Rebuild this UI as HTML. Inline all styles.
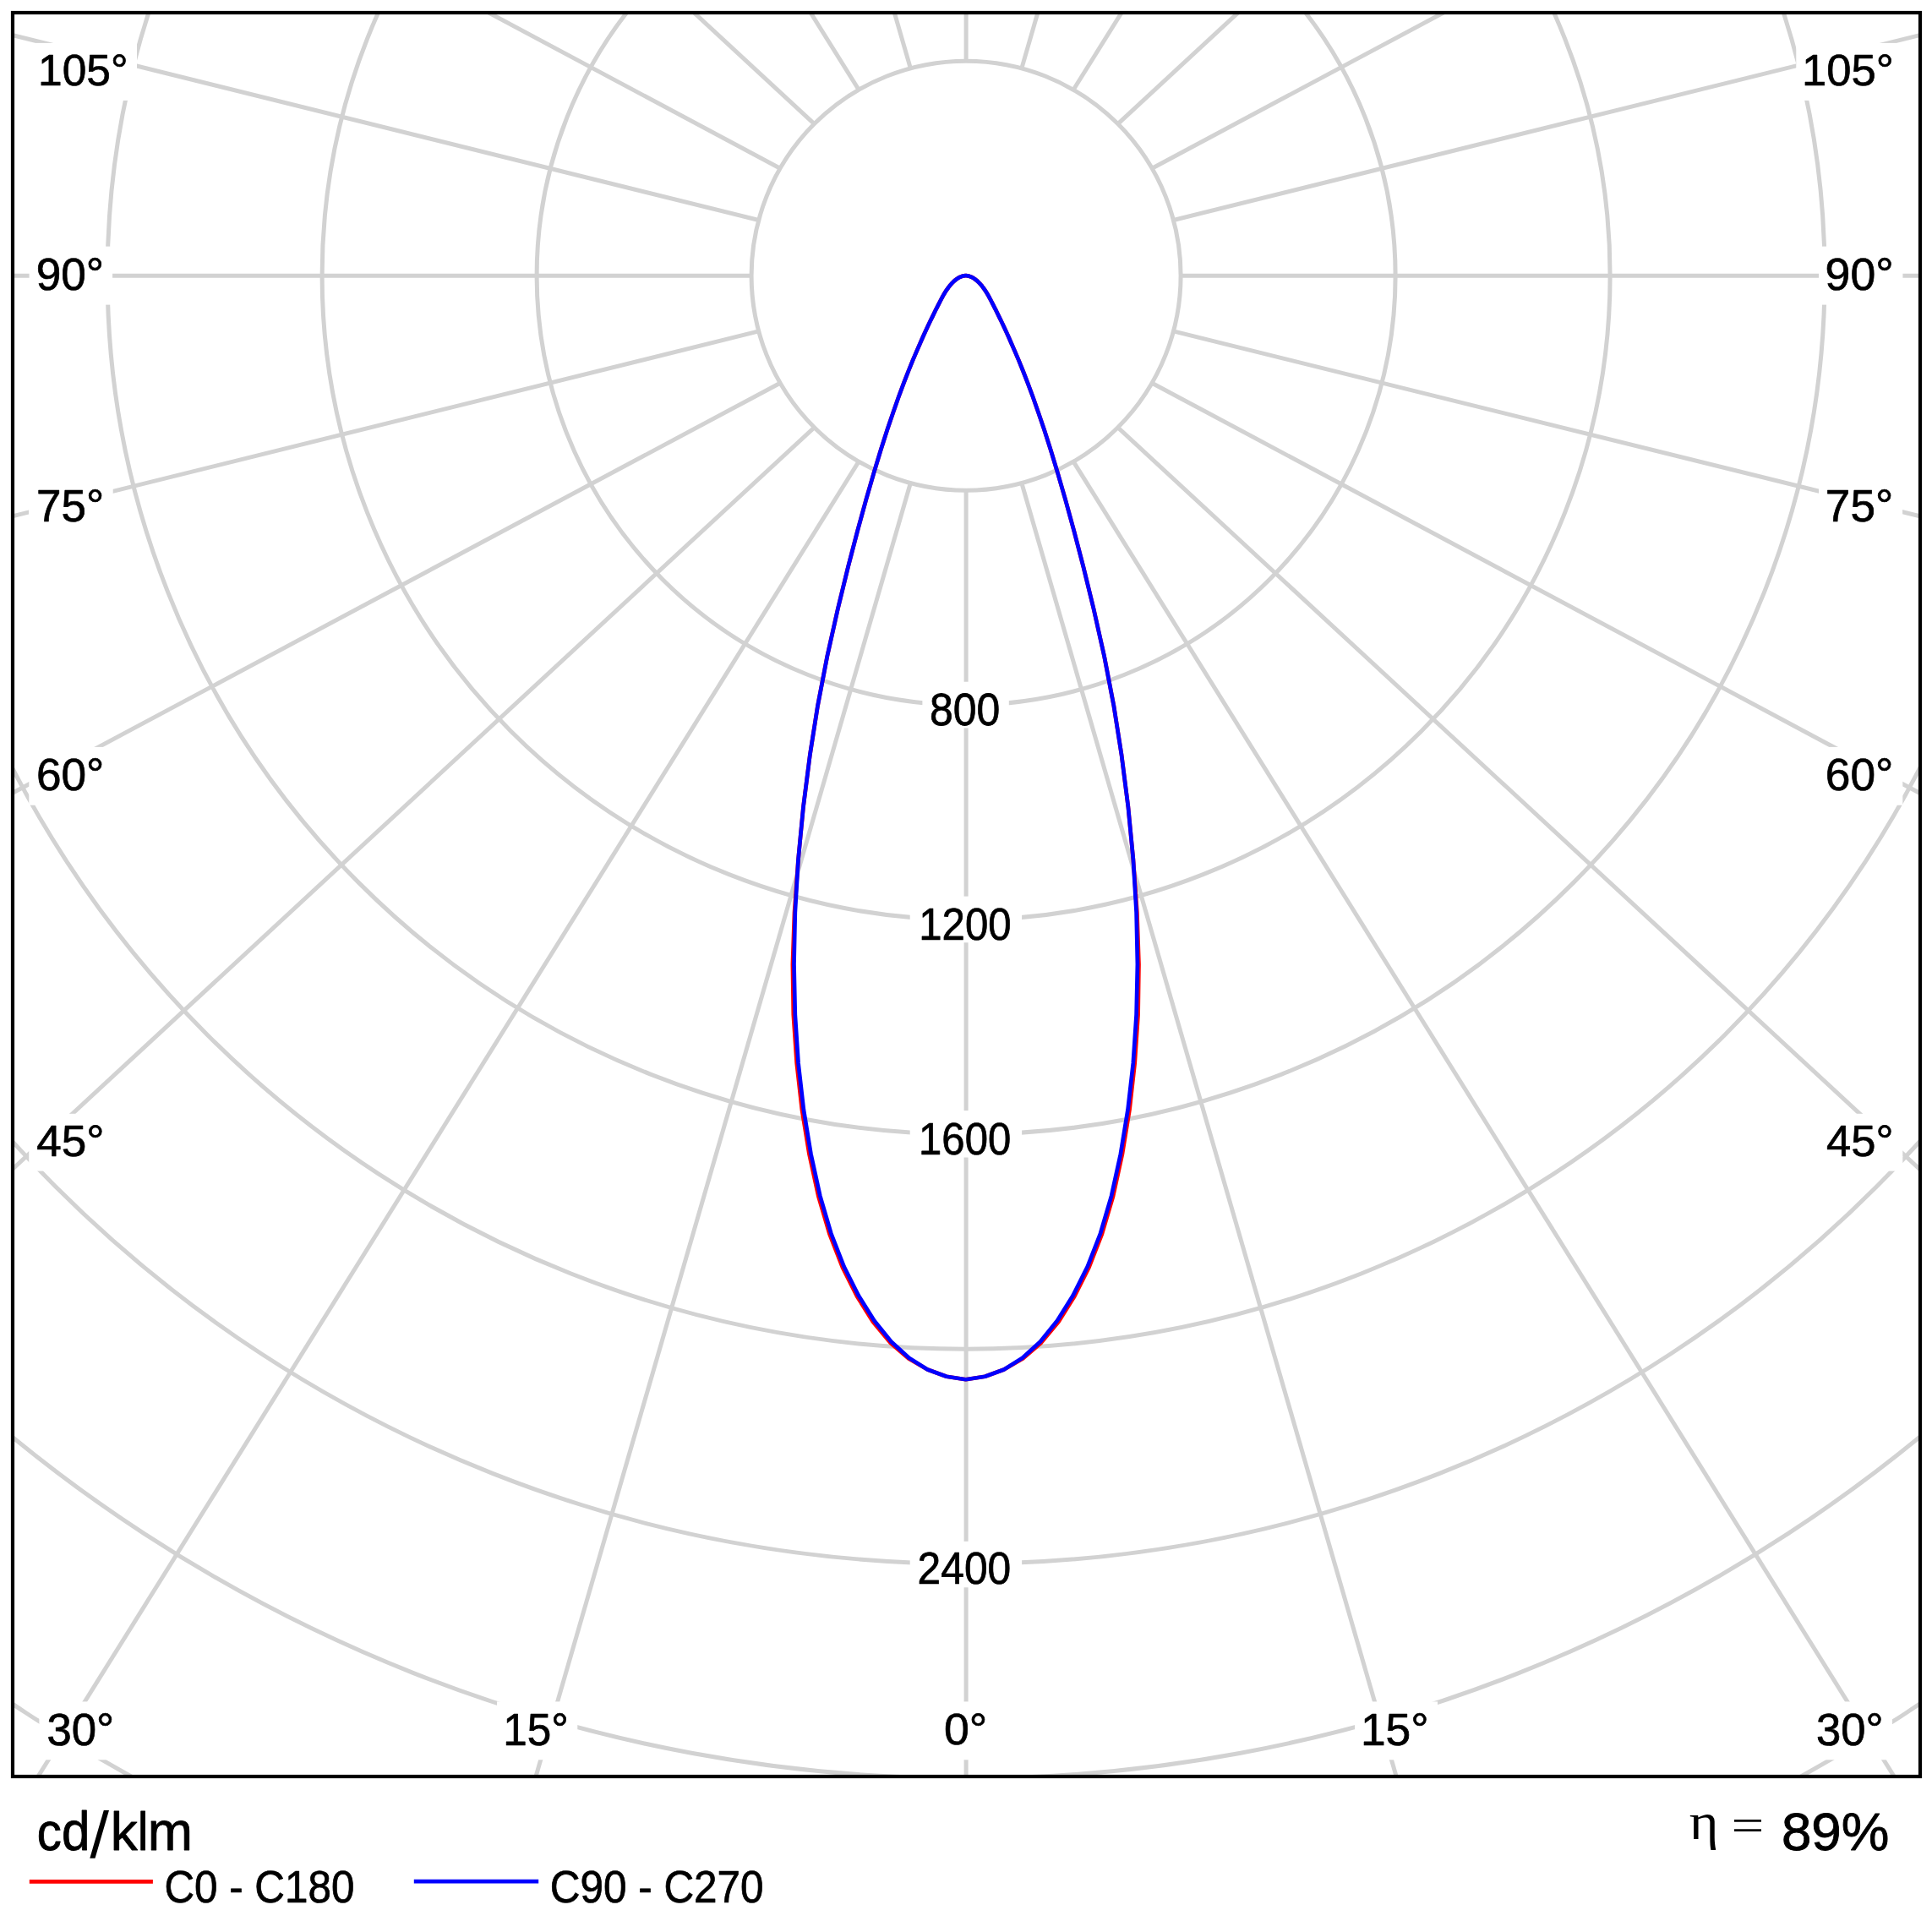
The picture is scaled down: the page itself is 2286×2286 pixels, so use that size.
<!DOCTYPE html><html><head><meta charset="utf-8"><style>html,body{margin:0;padding:0;background:#fff;overflow:hidden}svg{display:block}</style></head><body>
<svg width="2286" height="2286" viewBox="0 0 2286 2286">
<defs><clipPath id="fr"><rect x="17.0" y="17.0" width="2253.0" height="2083.0"/></clipPath></defs>
<rect width="2286" height="2286" fill="#fff"/>
<g clip-path="url(#fr)" fill="none" stroke="#d2d2d2" stroke-width="5.0">
<circle cx="1143.1" cy="326.2" r="254.0"/>
<circle cx="1143.1" cy="326.2" r="508.0"/>
<circle cx="1143.1" cy="326.2" r="762.0"/>
<circle cx="1143.1" cy="326.2" r="1016.0"/>
<circle cx="1143.1" cy="326.2" r="1270.0"/>
<circle cx="1143.1" cy="326.2" r="1524.0"/>
<circle cx="1143.1" cy="326.2" r="1778.0"/>
<circle cx="1143.1" cy="326.2" r="2032.0"/>
<line x1="1077.36" y1="571.55" x2="633.74" y2="2103.00"/>
<line x1="1016.10" y1="546.17" x2="44.39" y2="2103.00"/>
<line x1="963.49" y1="505.81" x2="14.00" y2="1384.09"/>
<line x1="923.13" y1="453.20" x2="14.00" y2="938.72"/>
<line x1="897.75" y1="391.94" x2="14.00" y2="610.98"/>
<line x1="889.10" y1="326.20" x2="14.00" y2="326.20"/>
<line x1="897.75" y1="260.46" x2="14.00" y2="41.42"/>
<line x1="923.13" y1="199.20" x2="576.34" y2="14.00"/>
<line x1="963.49" y1="146.59" x2="820.15" y2="14.00"/>
<line x1="1016.10" y1="106.23" x2="958.53" y2="14.00"/>
<line x1="1077.36" y1="80.85" x2="1057.99" y2="14.00"/>
<line x1="1143.10" y1="580.20" x2="1143.10" y2="2103.00"/>
<line x1="1208.84" y1="571.55" x2="1652.46" y2="2103.00"/>
<line x1="1270.10" y1="546.17" x2="2241.81" y2="2103.00"/>
<line x1="1322.71" y1="505.81" x2="2273.00" y2="1384.83"/>
<line x1="1363.07" y1="453.20" x2="2273.00" y2="939.15"/>
<line x1="1388.45" y1="391.94" x2="2273.00" y2="611.18"/>
<line x1="1397.10" y1="326.20" x2="2273.00" y2="326.20"/>
<line x1="1388.45" y1="260.46" x2="2273.00" y2="41.22"/>
<line x1="1363.07" y1="199.20" x2="1709.86" y2="14.00"/>
<line x1="1322.71" y1="146.59" x2="1466.05" y2="14.00"/>
<line x1="1270.10" y1="106.23" x2="1327.67" y2="14.00"/>
<line x1="1208.84" y1="80.85" x2="1228.21" y2="14.00"/>
<line x1="1143.10" y1="72.20" x2="1143.10" y2="14.00"/>
</g>
<g fill="#fff" stroke="none">
<rect x="34.4" y="50.9" width="127.6" height="68.0"/>
<rect x="34.6" y="291.6" width="98.5" height="69.0"/>
<rect x="34.0" y="566.4" width="99.7" height="68.5"/>
<rect x="34.3" y="883.9" width="99.2" height="68.8"/>
<rect x="34.2" y="1317.8" width="99.3" height="67.8"/>
<rect x="2125.3" y="50.9" width="126.0" height="68.0"/>
<rect x="2152.0" y="291.6" width="99.4" height="69.0"/>
<rect x="2152.1" y="566.4" width="99.0" height="68.5"/>
<rect x="2152.0" y="883.9" width="99.3" height="68.8"/>
<rect x="2151.7" y="1317.8" width="99.6" height="67.8"/>
<rect x="46.4" y="2013.4" width="99.2" height="68.9"/>
<rect x="588.0" y="2013.4" width="95.3" height="68.9"/>
<rect x="1108.2" y="2013.4" width="70.4" height="68.9"/>
<rect x="1603.0" y="2013.4" width="98.0" height="68.9"/>
<rect x="2140.0" y="2013.4" width="99.0" height="68.9"/>
<rect x="1091.4" y="806.7" width="102.4" height="54.7"/>
<rect x="1076.7" y="1060.6" width="132.4" height="54.7"/>
<rect x="1076.7" y="1314.1" width="132.4" height="55.4"/>
<rect x="1076.7" y="1823.8" width="132.4" height="54.5"/>
</g>
<g fill="#000">
<text transform="matrix(0.51486 0 0 0.52291 45.09 101.23)" font-family='"Liberation Sans", sans-serif' font-size="100" stroke="#000" stroke-width="1.356" stroke-linejoin="round">105°</text>
<text transform="matrix(0.53151 0 0 0.53679 42.74 342.90)" font-family='"Liberation Sans", sans-serif' font-size="100" stroke="#000" stroke-width="1.353" stroke-linejoin="round">90°</text>
<text transform="matrix(0.52991 0 0 0.52985 43.07 617.21)" font-family='"Liberation Sans", sans-serif' font-size="100" stroke="#000" stroke-width="1.346" stroke-linejoin="round">75°</text>
<text transform="matrix(0.53177 0 0 0.53401 43.00 935.01)" font-family='"Liberation Sans", sans-serif' font-size="100" stroke="#000" stroke-width="1.349" stroke-linejoin="round">60°</text>
<text transform="matrix(0.53073 0 0 0.52430 43.16 1367.62)" font-family='"Liberation Sans", sans-serif' font-size="100" stroke="#000" stroke-width="1.338" stroke-linejoin="round">45°</text>
<text transform="matrix(0.52572 0 0 0.52291 2132.11 101.23)" font-family='"Liberation Sans", sans-serif' font-size="100" stroke="#000" stroke-width="1.342" stroke-linejoin="round">105°</text>
<text transform="matrix(0.53578 0 0 0.53679 2159.62 342.90)" font-family='"Liberation Sans", sans-serif' font-size="100" stroke="#000" stroke-width="1.347" stroke-linejoin="round">90°</text>
<text transform="matrix(0.53062 0 0 0.52985 2159.87 617.21)" font-family='"Liberation Sans", sans-serif' font-size="100" stroke="#000" stroke-width="1.345" stroke-linejoin="round">75°</text>
<text transform="matrix(0.53249 0 0 0.53401 2159.80 935.01)" font-family='"Liberation Sans", sans-serif' font-size="100" stroke="#000" stroke-width="1.348" stroke-linejoin="round">60°</text>
<text transform="matrix(0.52514 0 0 0.52430 2160.97 1367.62)" font-family='"Liberation Sans", sans-serif' font-size="100" stroke="#000" stroke-width="1.345" stroke-linejoin="round">45°</text>
<text transform="matrix(0.52709 0 0 0.53262 55.38 2064.81)" font-family='"Liberation Sans", sans-serif' font-size="100" stroke="#000" stroke-width="1.353" stroke-linejoin="round">30°</text>
<text transform="matrix(0.51240 0 0 0.53262 595.32 2064.81)" font-family='"Liberation Sans", sans-serif' font-size="100" stroke="#000" stroke-width="1.372" stroke-linejoin="round">15°</text>
<text transform="matrix(0.53682 0 0 0.52153 1116.90 2064.33)" font-family='"Liberation Sans", sans-serif' font-size="100" stroke="#000" stroke-width="1.326" stroke-linejoin="round">0°</text>
<text transform="matrix(0.53345 0 0 0.53262 1609.96 2064.81)" font-family='"Liberation Sans", sans-serif' font-size="100" stroke="#000" stroke-width="1.345" stroke-linejoin="round">15°</text>
<text transform="matrix(0.52562 0 0 0.53817 2148.99 2065.00)" font-family='"Liberation Sans", sans-serif' font-size="100" stroke="#000" stroke-width="1.362" stroke-linejoin="round">30°</text>
<text transform="matrix(0.49937 0 0 0.53817 1100.04 857.80)" font-family='"Liberation Sans", sans-serif' font-size="100" stroke="#000" stroke-width="1.396" stroke-linejoin="round">800</text>
<text transform="matrix(0.49139 0 0 0.53262 1087.27 1111.71)" font-family='"Liberation Sans", sans-serif' font-size="100" stroke="#000" stroke-width="1.400" stroke-linejoin="round">1200</text>
<text transform="matrix(0.49046 0 0 0.52985 1087.08 1365.51)" font-family='"Liberation Sans", sans-serif' font-size="100" stroke="#000" stroke-width="1.398" stroke-linejoin="round">1600</text>
<text transform="matrix(0.49732 0 0 0.53679 1085.57 1873.90)" font-family='"Liberation Sans", sans-serif' font-size="100" stroke="#000" stroke-width="1.397" stroke-linejoin="round">2400</text>
</g>
<path d="M1142.7 1632.2 L1120.0 1628.8 L1097.5 1620.5 L1075.1 1607.5 L1053.3 1588.6 L1032.9 1563.9 L1014.1 1534.0 L996.9 1499.6 L981.5 1460.1 L968.3 1415.3 L957.5 1365.8 L948.9 1313.2 L942.7 1258.1 L938.8 1200.7 L937.9 1141.0 L940.0 1079.7 L944.5 1017.3 L950.5 954.9 L958.3 893.7 L967.6 834.7 L978.8 776.5 L991.4 720.2 L1003.6 670.4 L1014.7 627.8 L1024.8 591.1 L1034.0 559.4 L1042.3 532.0 L1049.9 508.3 L1057.0 487.5 L1063.4 469.2 L1069.4 453.1 L1074.9 439.0 L1079.9 426.7 L1084.5 415.9 L1088.6 406.5 L1092.2 398.3 L1095.4 391.2 L1098.3 385.1 L1100.8 379.8 L1103.1 375.1 L1105.1 371.0 L1106.8 367.4 L1108.4 364.3 L1109.9 361.4 L1111.2 358.9 L1112.4 356.5 L1113.5 354.4 L1114.5 352.5 L1115.5 350.7 L1116.4 349.0 L1117.3 347.5 L1118.2 346.0 L1119.1 344.6 L1119.9 343.4 L1120.8 342.1 L1121.6 341.0 L1122.4 339.9 L1123.2 338.9 L1123.9 337.9 L1124.7 337.0 L1125.4 336.2 L1126.1 335.4 L1126.9 334.6 L1127.6 333.9 L1128.2 333.2 L1128.9 332.6 L1129.6 332.0 L1130.3 331.5 L1130.9 331.0 L1131.6 330.5 L1132.2 330.0 L1132.8 329.6 L1133.4 329.2 L1134.0 328.9 L1134.6 328.5 L1135.1 328.2 L1135.7 327.9 L1136.2 327.7 L1136.8 327.5 L1137.3 327.3 L1137.8 327.1 L1138.3 326.9 L1138.7 326.8 L1139.2 326.6 L1139.6 326.5 L1140.1 326.4 L1140.5 326.4 L1140.8 326.3 L1141.2 326.3 L1141.5 326.2 L1142.7 326.2 L1143.9 326.2 L1144.2 326.3 L1144.6 326.3 L1144.9 326.4 L1145.3 326.4 L1145.8 326.5 L1146.2 326.6 L1146.7 326.8 L1147.1 326.9 L1147.6 327.1 L1148.1 327.3 L1148.6 327.5 L1149.2 327.7 L1149.7 327.9 L1150.3 328.2 L1150.8 328.5 L1151.4 328.9 L1152.0 329.2 L1152.6 329.6 L1153.2 330.0 L1153.8 330.5 L1154.5 331.0 L1155.1 331.5 L1155.8 332.0 L1156.5 332.6 L1157.2 333.2 L1157.8 333.9 L1158.5 334.6 L1159.3 335.4 L1160.0 336.2 L1160.7 337.0 L1161.5 337.9 L1162.2 338.9 L1163.0 339.9 L1163.8 341.0 L1164.6 342.1 L1165.5 343.4 L1166.3 344.6 L1167.2 346.0 L1168.1 347.5 L1169.0 349.0 L1169.9 350.7 L1170.9 352.5 L1171.9 354.4 L1173.0 356.5 L1174.2 358.9 L1175.5 361.4 L1177.0 364.3 L1178.6 367.4 L1180.3 371.0 L1182.3 375.1 L1184.6 379.8 L1187.1 385.1 L1190.0 391.2 L1193.2 398.3 L1196.8 406.5 L1200.9 415.9 L1205.5 426.7 L1210.5 439.0 L1216.0 453.1 L1222.0 469.2 L1228.4 487.5 L1235.5 508.3 L1243.1 532.0 L1251.4 559.4 L1260.6 591.1 L1270.7 627.8 L1281.8 670.4 L1294.0 720.2 L1306.6 776.5 L1317.8 834.7 L1327.1 893.7 L1334.9 954.9 L1340.9 1017.3 L1345.4 1079.7 L1347.5 1141.0 L1346.6 1200.7 L1342.7 1258.1 L1336.5 1313.2 L1327.9 1365.8 L1317.1 1415.3 L1303.9 1460.1 L1288.5 1499.6 L1271.3 1534.0 L1252.5 1563.9 L1232.1 1588.6 L1210.3 1607.5 L1187.9 1620.5 L1165.4 1628.8 L1142.7 1632.2 Z" fill="none" stroke="#ff0000" stroke-width="4.7" stroke-linejoin="round"/>
<path d="M1142.7 1632.2 L1120.0 1628.8 L1097.5 1620.5 L1075.6 1606.8 L1054.5 1587.5 L1034.5 1562.7 L1015.9 1533.1 L998.7 1498.8 L983.4 1459.5 L970.3 1414.8 L959.5 1365.4 L950.9 1312.9 L944.6 1258.0 L940.8 1200.6 L939.5 1141.0 L940.8 1079.7 L944.5 1017.3 L950.5 954.9 L958.3 893.7 L967.6 834.7 L978.8 776.5 L991.4 720.2 L1003.6 670.4 L1014.7 627.8 L1024.8 591.1 L1034.0 559.4 L1042.3 532.0 L1049.9 508.3 L1057.0 487.5 L1063.4 469.2 L1069.4 453.1 L1074.9 439.0 L1079.9 426.7 L1084.5 415.9 L1088.6 406.5 L1092.2 398.3 L1095.4 391.2 L1098.3 385.1 L1100.8 379.8 L1103.1 375.1 L1105.1 371.0 L1106.8 367.4 L1108.4 364.3 L1109.9 361.4 L1111.2 358.9 L1112.4 356.5 L1113.5 354.4 L1114.5 352.5 L1115.5 350.7 L1116.4 349.0 L1117.3 347.5 L1118.2 346.0 L1119.1 344.6 L1119.9 343.4 L1120.8 342.1 L1121.6 341.0 L1122.4 339.9 L1123.2 338.9 L1123.9 337.9 L1124.7 337.0 L1125.4 336.2 L1126.1 335.4 L1126.9 334.6 L1127.6 333.9 L1128.2 333.2 L1128.9 332.6 L1129.6 332.0 L1130.3 331.5 L1130.9 331.0 L1131.6 330.5 L1132.2 330.0 L1132.8 329.6 L1133.4 329.2 L1134.0 328.9 L1134.6 328.5 L1135.1 328.2 L1135.7 327.9 L1136.2 327.7 L1136.8 327.5 L1137.3 327.3 L1137.8 327.1 L1138.3 326.9 L1138.7 326.8 L1139.2 326.6 L1139.6 326.5 L1140.1 326.4 L1140.5 326.4 L1140.8 326.3 L1141.2 326.3 L1141.5 326.2 L1142.7 326.2 L1143.9 326.2 L1144.2 326.3 L1144.6 326.3 L1144.9 326.4 L1145.3 326.4 L1145.8 326.5 L1146.2 326.6 L1146.7 326.8 L1147.1 326.9 L1147.6 327.1 L1148.1 327.3 L1148.6 327.5 L1149.2 327.7 L1149.7 327.9 L1150.3 328.2 L1150.8 328.5 L1151.4 328.9 L1152.0 329.2 L1152.6 329.6 L1153.2 330.0 L1153.8 330.5 L1154.5 331.0 L1155.1 331.5 L1155.8 332.0 L1156.5 332.6 L1157.2 333.2 L1157.8 333.9 L1158.5 334.6 L1159.3 335.4 L1160.0 336.2 L1160.7 337.0 L1161.5 337.9 L1162.2 338.9 L1163.0 339.9 L1163.8 341.0 L1164.6 342.1 L1165.5 343.4 L1166.3 344.6 L1167.2 346.0 L1168.1 347.5 L1169.0 349.0 L1169.9 350.7 L1170.9 352.5 L1171.9 354.4 L1173.0 356.5 L1174.2 358.9 L1175.5 361.4 L1177.0 364.3 L1178.6 367.4 L1180.3 371.0 L1182.3 375.1 L1184.6 379.8 L1187.1 385.1 L1190.0 391.2 L1193.2 398.3 L1196.8 406.5 L1200.9 415.9 L1205.5 426.7 L1210.5 439.0 L1216.0 453.1 L1222.0 469.2 L1228.4 487.5 L1235.5 508.3 L1243.1 532.0 L1251.4 559.4 L1260.6 591.1 L1270.7 627.8 L1281.8 670.4 L1294.0 720.2 L1306.6 776.5 L1317.8 834.7 L1327.1 893.7 L1334.9 954.9 L1340.9 1017.3 L1344.6 1079.7 L1345.9 1141.0 L1344.6 1200.6 L1340.8 1258.0 L1334.5 1312.9 L1325.9 1365.4 L1315.1 1414.8 L1302.0 1459.5 L1286.7 1498.8 L1269.5 1533.1 L1250.9 1562.7 L1230.9 1587.5 L1209.8 1606.8 L1187.9 1620.5 L1165.4 1628.8 L1142.7 1632.2 Z" fill="none" stroke="#0000ff" stroke-width="4.7" stroke-linejoin="round"/>
<rect x="15.0" y="15.0" width="2257.0" height="2087.0" fill="none" stroke="#000" stroke-width="4.2"/>
<line x1="34.8" y1="2226.3" x2="180.9" y2="2226.3" stroke="#ff0000" stroke-width="4.8"/>
<line x1="489.8" y1="2226.1" x2="637.2" y2="2226.1" stroke="#0000ff" stroke-width="4.6"/>
<g fill="#000">
<text transform="matrix(0.58224 0 0 0.63811 43.66 2188.53)" font-family='"Liberation Sans", sans-serif' font-size="100" stroke="#000" stroke-width="1.415" stroke-linejoin="round">c</text>
<text transform="matrix(0.60079 0 0 0.64266 73.08 2188.53)" font-family='"Liberation Sans", sans-serif' font-size="100" stroke="#000" stroke-width="1.390" stroke-linejoin="round">d</text>
<text transform="matrix(0.63946 0 0 0.62699 130.81 2188.78)" font-family='"Liberation Sans", sans-serif' font-size="100" stroke="#000" stroke-width="1.332" stroke-linejoin="round">k</text>
<text transform="matrix(0.55503 0 0 0.62699 162.98 2188.78)" font-family='"Liberation Sans", sans-serif' font-size="100" stroke="#000" stroke-width="1.427" stroke-linejoin="round">l</text>
<text transform="matrix(0.63900 0 0 0.64242 174.82 2188.77)" font-family='"Liberation Sans", sans-serif' font-size="100" stroke="#000" stroke-width="1.358" stroke-linejoin="round">m</text>
<text transform="matrix(0.49375 0 0 0.53124 194.39 2250.91)" font-family='"Liberation Sans", sans-serif' font-size="100" stroke="#000" stroke-width="1.395" stroke-linejoin="round">C0 - C180</text>
<text transform="matrix(0.49449 0 0 0.53540 650.79 2251.00)" font-family='"Liberation Sans", sans-serif' font-size="100" stroke="#000" stroke-width="1.399" stroke-linejoin="round">C90 - C270</text>
<text transform="matrix(0.66593 0 0 0.61832 1998.70 2176.06)" font-family='"Liberation Serif", serif' font-size="100">η</text>
<text transform="matrix(0.68817 0 0 0.57200 2048.56 2179.07)" font-family='"Liberation Serif", serif' font-size="100">=</text>
<text transform="matrix(0.63637 0 0 0.63804 2107.92 2188.53)" font-family='"Liberation Sans", sans-serif' font-size="100" stroke="#000" stroke-width="1.348" stroke-linejoin="round">89%</text>
</g>
<polygon points="122.8,2141.9 129.0,2141.9 112.5,2198.8 106.3,2198.8" fill="#000"/>
</svg></body></html>
